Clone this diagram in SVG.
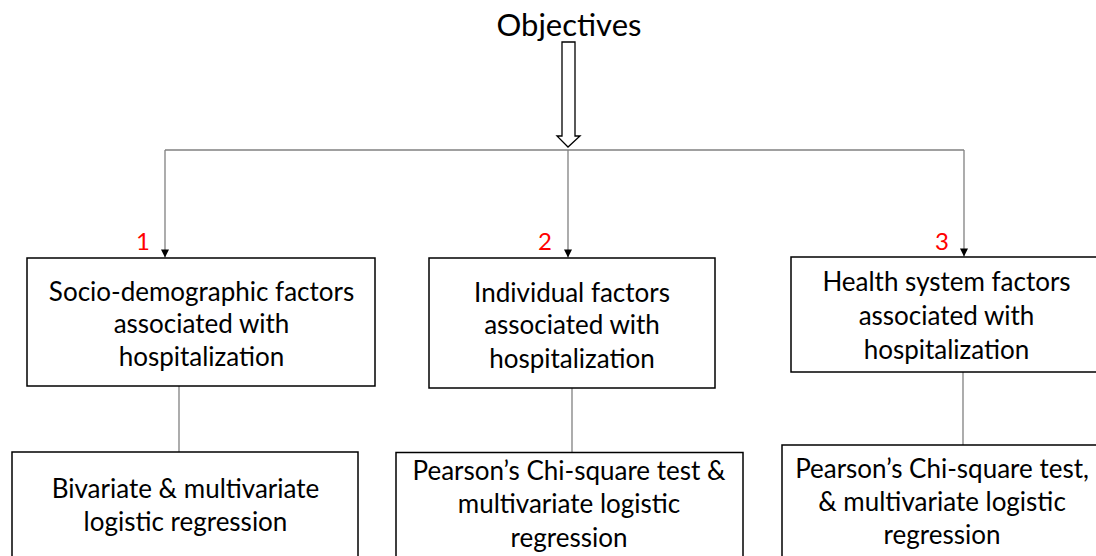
<svg xmlns="http://www.w3.org/2000/svg" width="1096" height="556" viewBox="0 0 1096 556">
<defs>
<style>
.t{font-family:Lato,"Open Sans","Liberation Sans",sans-serif;font-size:26px;fill:#000;text-anchor:middle}
.n{font-family:Lato,"Open Sans","Liberation Sans",sans-serif;font-size:24px;fill:#ff0000;text-anchor:middle}
.box{fill:#fff;stroke:#000;stroke-width:1.5}
.ln{fill:none;stroke:#808080;stroke-width:1.3}
</style>
<marker id="ah" markerWidth="10" markerHeight="10" refX="9" refY="5" orient="auto" markerUnits="userSpaceOnUse">
<path d="M1,1 L9,5 L1,9 Z" fill="#000"/>
</marker>
</defs>
<rect width="1096" height="556" fill="#fff"/>
<g id="title">
<text x="569" y="36" style="font-family:Lato,'Open Sans','Liberation Sans',sans-serif;font-size:31px;text-anchor:middle">Objectives</text>
</g>
<g id="connectors">
<path d="M562,42 H575 V136 H580 L568,147 L557,136 H562 Z" fill="#fff" stroke="#000" stroke-width="1.3"/>
<path class="ln" d="M165,150 H964"/>
<path class="ln" d="M165,150 V257.5" marker-end="url(#ah)"/>
<path class="ln" d="M568,150 V257.5" marker-end="url(#ah)"/>
<path class="ln" d="M964,150 V256.5" marker-end="url(#ah)"/>
<path class="ln" d="M179,386 V452"/>
<path class="ln" d="M572,388 V452"/>
<path class="ln" d="M963,372 V445"/>
</g>
<g id="num1"><text class="n" x="143" y="250">1</text></g>
<g id="num2"><text class="n" x="545" y="250">2</text></g>
<g id="num3"><text class="n" x="942" y="250">3</text></g>
<g id="box1">
<rect class="box" x="27" y="258" width="348" height="128"/>
<text class="t" x="201.5" y="301">Socio-demographic factors</text>
<text class="t" x="201.5" y="333">associated with</text>
<text class="t" x="201.5" y="366">hospitalization</text>
</g>
<g id="box2">
<rect class="box" x="429" y="258" width="286" height="130"/>
<text class="t" x="572" y="302">Individual factors</text>
<text class="t" x="572" y="334">associated with</text>
<text class="t" x="572" y="368">hospitalization</text>
</g>
<g id="box3">
<rect class="box" x="791" y="257" width="306" height="115"/>
<text class="t" x="946.5" y="291">Health system factors</text>
<text class="t" x="946.5" y="325">associated with</text>
<text class="t" x="946.5" y="359">hospitalization</text>
</g>
<g id="box4">
<rect class="box" x="12" y="452" width="346" height="106"/>
<text class="t" x="185.5" y="498">Bivariate &amp; multivariate</text>
<text class="t" x="185.5" y="531">logistic regression</text>
</g>
<g id="box5">
<rect class="box" x="396" y="452.5" width="347" height="106"/>
<text class="t" x="569" y="480">Pearson’s Chi-square test &amp;</text>
<text class="t" x="569" y="513">multivariate logistic</text>
<text class="t" x="569" y="547">regression</text>
</g>
<g id="box6">
<rect class="box" x="782" y="445" width="320" height="115"/>
<text class="t" x="942" y="478">Pearson’s Chi-square test,</text>
<text class="t" x="942" y="511">&amp; multivariate logistic</text>
<text class="t" x="942" y="544">regression</text>
</g>
</svg>
